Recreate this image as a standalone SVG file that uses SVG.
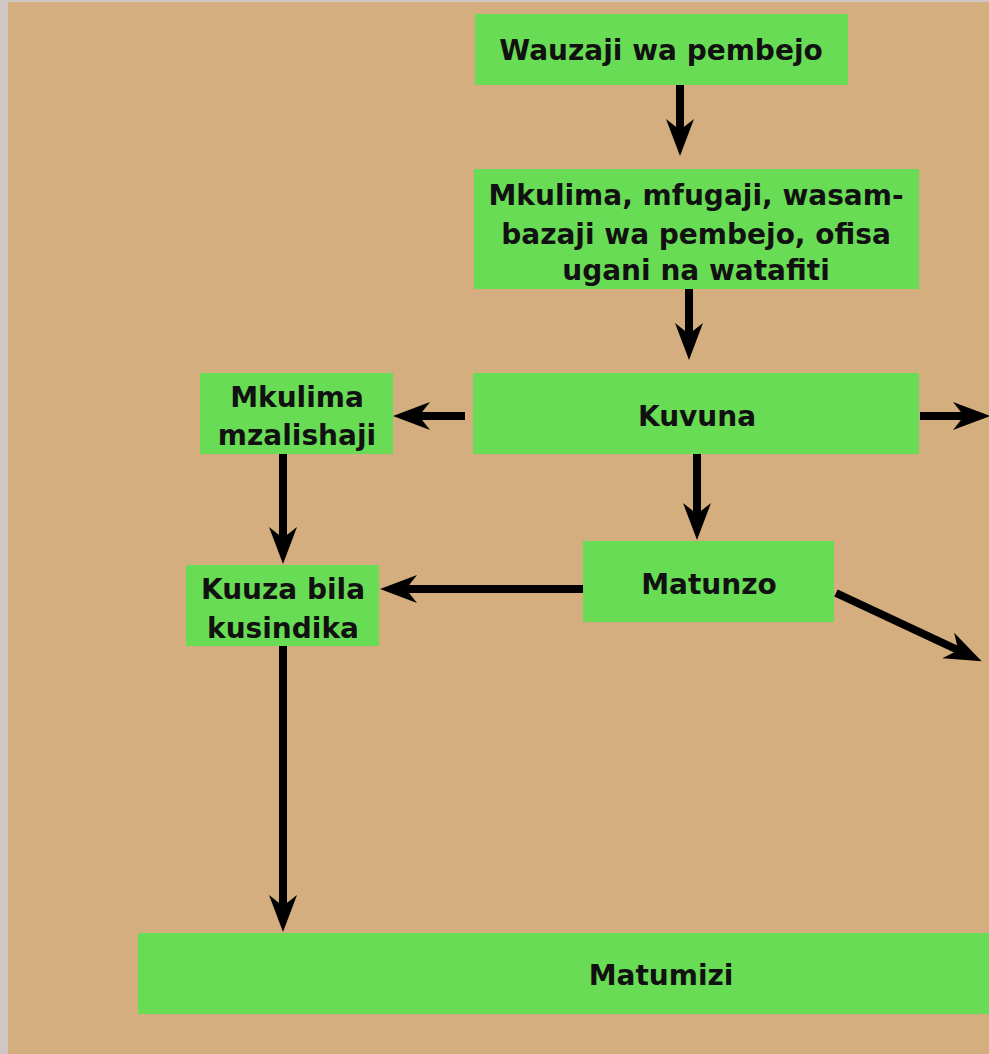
<svg xmlns="http://www.w3.org/2000/svg" width="989" height="1054" viewBox="0 0 989 1054">
<style>
.bg{fill:#D4AE7E}
.box{fill:#69DC55}
.t{font-family:"DejaVu Sans","Open Sans",sans-serif;font-weight:bold;font-size:28px;fill:#111;text-anchor:middle;dominant-baseline:central}
.c line{stroke:#000;stroke-width:8;fill:none;marker-end:url(#ah)}
</style>
<defs>
<marker id="ah" markerUnits="userSpaceOnUse" viewBox="-40 -15 42 30" refX="-24" refY="0" markerWidth="42" markerHeight="30" orient="auto">
<path d="M0,0 L-37,-14 L-26,0 L-37,14 Z" fill="#000"/>
</marker>
</defs>
<rect x="0" y="0" width="989" height="1054" fill="#CFC7C3"/>
<rect class="bg" x="8" y="2" width="981" height="1052"/>
<g id="n1"><rect class="box" x="475" y="14" width="373" height="71"/><text class="t" x="661" y="50">Wauzaji wa pembejo</text></g>
<g id="n2"><rect class="box" x="474" y="169" width="445" height="120"/><text class="t" x="696" y="195">Mkulima, mfugaji, wasam-</text><text class="t" x="696" y="234">bazaji wa pembejo, ofisa</text><text class="t" x="696" y="270">ugani na watafiti</text></g>
<g id="n3"><rect class="box" x="473" y="373" width="446" height="81"/><text class="t" x="697" y="416">Kuvuna</text></g>
<g id="n4"><rect class="box" x="200" y="373" width="193" height="81"/><text class="t" x="297" y="397">Mkulima</text><text class="t" x="297" y="435">mzalishaji</text></g>
<g id="n5"><rect class="box" x="583" y="541" width="251" height="81"/><text class="t" x="709" y="584">Matunzo</text></g>
<g id="n6"><rect class="box" x="186" y="565" width="193" height="81"/><text class="t" x="283" y="589">Kuuza bila</text><text class="t" x="283" y="628">kusindika</text></g>
<g id="n7"><rect class="box" x="138" y="933" width="851" height="81"/><text class="t" x="661" y="975">Matumizi</text></g>
<g id="connectors" class="c">
<line x1="680" y1="85" x2="680" y2="132"/>
<line x1="689" y1="289" x2="689" y2="336"/>
<line x1="465" y1="416" x2="417" y2="416"/>
<line x1="920" y1="416" x2="966" y2="416"/>
<line x1="697" y1="454" x2="697" y2="516"/>
<line x1="583" y1="589" x2="404" y2="589"/>
<line x1="283" y1="454" x2="283" y2="540"/>
<line x1="283" y1="646" x2="283" y2="908"/>
<line x1="836" y1="593" x2="960" y2="651"/>
</g>
</svg>
